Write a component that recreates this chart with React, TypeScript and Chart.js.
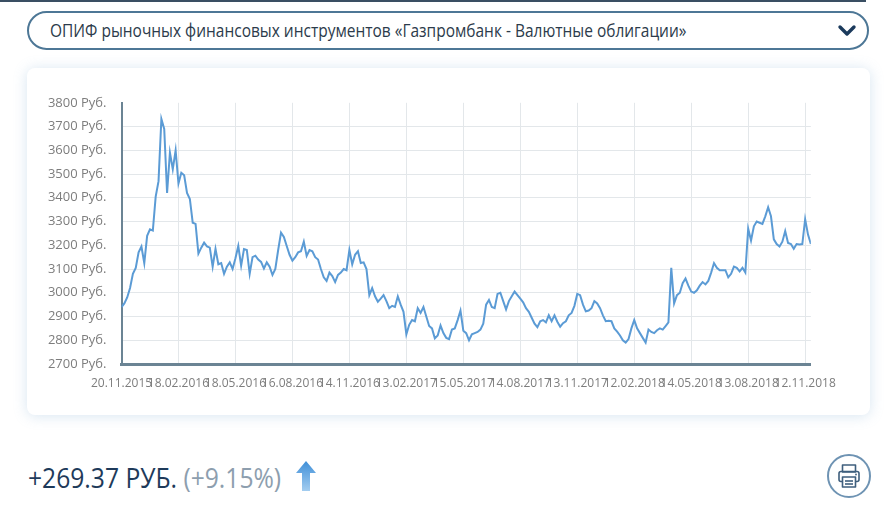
import React, { useEffect, useRef } from 'react';
import { Chart, registerables } from 'chart.js';

Chart.register(...registerables);

const TITLE = 'ОПИФ рыночных финансовых инструментов «Газпромбанк - Валютные облигации»';
const CHANGE_ABS = '+269.37 РУБ.';
const CHANGE_PCT = '(+9.15%)';
const CURRENCY = 'Руб.';

const xTickLabels = [
  '20.11.2015', '18.02.2016', '18.05.2016', '16.08.2016', '14.11.2016', '13.02.2017', '15.05.2017',
  '14.08.2017', '13.11.2017', '12.02.2018', '14.05.2018', '13.08.2018', '12.11.2018',
];
const POINTS_PER_TICK = 20;

const Y_MIN = 2700;
const Y_MAX = 3800;
const Y_STEP = 100;

const prices = [
  2940, 2955, 2980, 3020, 3080, 3105, 3170, 3195, 3125, 3240,
  3267, 3262, 3405, 3470, 3732, 3690, 3420, 3590, 3520, 3600,
  3460, 3505, 3495, 3420, 3395, 3295, 3290, 3165, 3190, 3211,
  3195, 3190, 3110, 3185, 3120, 3125, 3080, 3110, 3128, 3100,
  3145, 3197, 3114, 3184, 3180, 3080, 3150, 3156, 3140, 3130,
  3102, 3128, 3110, 3075, 3100, 3180, 3253, 3235, 3197, 3160,
  3135, 3150, 3170, 3175, 3215, 3155, 3180, 3175, 3150, 3140,
  3100, 3065, 3050, 3085, 3070, 3045, 3075, 3085, 3100, 3095,
  3180, 3120, 3160, 3175, 3125, 3128, 3100, 2990, 3020, 2985,
  2962, 2975, 2990, 2965, 2935, 2945, 2940, 2985, 2950, 2920,
  2825, 2865, 2885, 2880, 2935, 2915, 2940, 2900, 2860, 2850,
  2808, 2820, 2862, 2830, 2810, 2805, 2845, 2850, 2885, 2925,
  2840, 2830, 2800, 2825, 2830, 2835, 2845, 2870, 2950, 2970,
  2940, 2935, 2995, 3000, 2965, 2930, 2965, 2985, 3005, 2990,
  2975, 2960, 2935, 2920, 2895, 2870, 2855, 2880, 2885, 2875,
  2905, 2880, 2905, 2878, 2857, 2872, 2880, 2905, 2915, 2945,
  2995, 2990, 2950, 2922, 2925, 2935, 2965, 2955, 2935, 2905,
  2880, 2882, 2880, 2850, 2836, 2820, 2800, 2790, 2805, 2850,
  2885, 2850, 2830, 2810, 2790, 2845, 2835, 2830, 2842, 2850,
  2845, 2860, 2875, 3105, 2955, 2990, 3000, 3040, 3060, 3030,
  3005, 3000, 3010, 3030, 3045, 3035, 3050, 3085, 3125, 3105,
  3095, 3095, 3095, 3065, 3080, 3110, 3105, 3090, 3105, 3085,
  3270, 3220, 3280, 3300, 3295, 3290, 3322, 3360, 3322, 3225,
  3205, 3195, 3215, 3260, 3210, 3205, 3185, 3205, 3203, 3205,
  3310, 3245, 3205,
];

const LINE_COLOR = '#5b9bd5';
const GRID_COLOR = '#e3e7ea';
const AXIS_COLOR = '#6b8494';
const TICK_COLOR = '#7d7d7d';

function PriceChart() {
  const ref = useRef<HTMLCanvasElement | null>(null);
  useEffect(() => {
    if (!ref.current) return;
    const chart = new Chart(ref.current, {
      type: 'line',
      data: {
        datasets: [
          {
            data: prices.map((v, i) => ({ x: i, y: v })),
            borderColor: LINE_COLOR,
            borderWidth: 2,
            pointRadius: 0,
            fill: false,
            tension: 0,
          },
        ],
      },
      options: {
        animation: false,
        responsive: false,
        maintainAspectRatio: false,
        layout: { padding: { top: 19, right: 30, left: 0, bottom: 0 } },
        plugins: { legend: { display: false }, tooltip: { enabled: false } },
        scales: {
          x: {
            type: 'linear',
            min: 0,
            max: prices.length - 1,
            afterFit: (s: any) => {
              s.height = 46;
            },
            grid: { color: GRID_COLOR, drawTicks: false, lineWidth: 1 },
            border: { color: AXIS_COLOR, width: 3 },
            ticks: {
              stepSize: POINTS_PER_TICK,
              includeBounds: false,
              autoSkip: false,
              maxRotation: 0,
              minRotation: 0,
              padding: 12,
              color: TICK_COLOR,
              font: { family: 'Open Sans', size: 12 },
              callback: (v: any) => xTickLabels[Math.round(Number(v) / POINTS_PER_TICK)] ?? '',
            },
          },
          y: {
            min: Y_MIN,
            max: Y_MAX,
            afterFit: (s: any) => {
              s.width = 91.5;
            },
            grid: {
              color: (ctx: any) => (ctx.tick && ctx.tick.value === Y_MAX ? 'rgba(0,0,0,0)' : GRID_COLOR),
              drawTicks: false,
            },
            border: { color: AXIS_COLOR, width: 2 },
            ticks: {
              stepSize: Y_STEP,
              padding: 15,
              color: TICK_COLOR,
              font: { family: 'Open Sans', size: 13 },
              callback: (v: any) => `${v} ${CURRENCY}`,
            },
          },
        },
      },
    } as any);
    return () => chart.destroy();
  }, []);
  return (
    <canvas
      ref={ref}
      width={818}
      height={330}
      style={{ position: 'absolute', left: 30, top: 80, width: 818, height: 330 }}
    />
  );
}

export default function App() {
  return (
    <div
      style={{
        position: 'absolute',
        left: 0,
        top: 0,
        width: 892,
        height: 507,
        background: '#ffffff',
        overflow: 'hidden',
        fontFamily: '"Open Sans", sans-serif',
      }}
    >
      <div style={{ position: 'absolute', left: 0, top: 0, width: 866, height: 2, background: '#3a4f63' }} />
      <div
        style={{
          position: 'absolute',
          left: 27,
          top: 11,
          width: 842,
          height: 39,
          border: '2px solid #4d7796',
          borderRadius: 20,
          boxSizing: 'border-box',
          background: '#fff',
        }}
      >
        <span
          style={{
            position: 'absolute',
            left: 21,
            top: 0,
            lineHeight: '35px',
            fontSize: 18,
            color: '#2c3b4b',
            whiteSpace: 'nowrap',
            transform: 'scaleX(0.86)',
            transformOrigin: '0 50%',
          }}
        >
          {TITLE}
        </span>
        <svg
          width={20}
          height={14}
          viewBox="0 0 20 14"
          style={{ position: 'absolute', left: 808, top: 11 }}
        >
          <polyline points="3,3 10,10 17,3" fill="none" stroke="#1b3a5c" strokeWidth={3.4} strokeLinecap="round" strokeLinejoin="round" />
        </svg>
      </div>
      <div
        style={{
          position: 'absolute',
          left: 27,
          top: 68,
          width: 843,
          height: 347,
          borderRadius: 8,
          background: '#fff',
          boxShadow: '0 1px 14px rgba(110,160,205,0.28)',
        }}
      />
      <PriceChart />
      <div
        style={{
          position: 'absolute',
          left: 28,
          top: 459,
          lineHeight: '36px',
          fontSize: 28,
          whiteSpace: 'nowrap',
          transform: 'scaleX(0.88)',
          transformOrigin: '0 50%',
        }}
      >
        <span style={{ color: '#1e3a5a' }}>{CHANGE_ABS}</span>
        <span style={{ color: '#8d9eae' }}> {CHANGE_PCT}</span>
      </div>
      <svg width={22} height={32} viewBox="0 0 22 32" style={{ position: 'absolute', left: 295, top: 460 }}>
        <defs>
          <linearGradient id="arrowGrad" x1="0" y1="0" x2="0" y2="1">
            <stop offset="0" stopColor="#3f8fd8" />
            <stop offset="1" stopColor="#a3cdf0" />
          </linearGradient>
        </defs>
        <polygon points="11,1 21,13 15,13 15,31 7,31 7,13 1,13" fill="url(#arrowGrad)" />
      </svg>
      <svg width={46} height={46} viewBox="0 0 46 46" style={{ position: 'absolute', left: 826, top: 453 }}>
        <circle cx={23} cy={23} r={21} fill="#fff" stroke="#6e93b3" strokeWidth={2} />
        <g fill="none" stroke="#3f5f7d" strokeWidth={1.6} strokeLinejoin="round">
          <rect x={16.5} y={12} width={13} height={7} />
          <rect x={13} y={18.5} width={20} height={10} rx={2} />
          <rect x={16.5} y={24} width={13} height={10} fill="#fff" />
          <line x1={19} y1={28} x2={27} y2={28} />
          <line x1={19} y1={31} x2={27} y2={31} />
        </g>
        <circle cx={30} cy={21.5} r={0.9} fill="#3f5f7d" />
      </svg>
    </div>
  );
}
